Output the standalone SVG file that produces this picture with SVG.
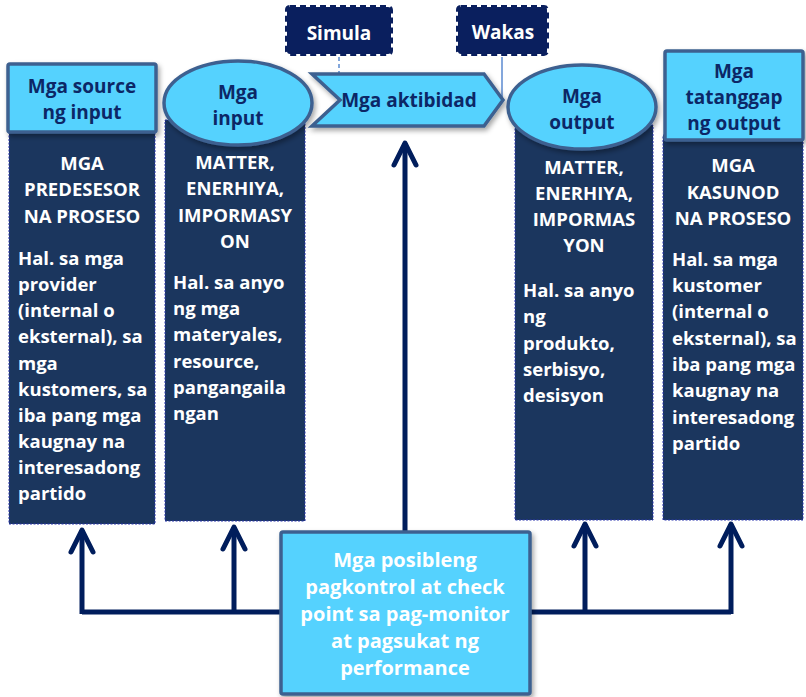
<svg xmlns="http://www.w3.org/2000/svg" width="806" height="697" viewBox="0 0 806 697">
  <defs>
    <filter id="shadow" x="-10%" y="-10%" width="125%" height="130%">
      <feDropShadow dx="2" dy="3" stdDeviation="2.5" flood-color="#000" flood-opacity="0.35"/>
    </filter>
    <marker id="head" viewBox="0 0 30 30" refX="26" refY="15" markerWidth="30" markerHeight="30" markerUnits="userSpaceOnUse" orient="auto">
      <path d="M4 4 L26 15 L4 26" fill="none" stroke="#001d5c" stroke-width="5" stroke-linecap="round" stroke-linejoin="round"/>
    </marker>
    <style>
      text { font-family: "Open Sans", "Liberation Sans", sans-serif; font-weight: bold; }
      .col { fill: #1b365e; stroke: #2b35b0; stroke-width: 1; stroke-dasharray: 2 1.5; }
      .light { fill: #55d2fe; stroke: #3e6190; stroke-width: 3.5; }
      .lbl { fill: #0c2766; font-size: 19px; text-anchor: middle; }
      .head { fill: #ffffff; font-size: 18.5px; text-anchor: middle; }
      .body { fill: #ffffff; font-size: 18.5px; }
      .tag { fill: #0a1f5e; stroke: #0a1f5e; stroke-width: 4; stroke-dasharray: 6 4; }
      .tagtxt { fill: #ffffff; font-size: 19px; text-anchor: middle; }
      .wire { fill: none; stroke: #001d5c; stroke-width: 5; stroke-linejoin: round; }
      .arrow { fill: none; stroke: #001d5c; stroke-width: 5; marker-end: url(#head); }
    </style>
  </defs>

  <!-- dark information columns -->
  <g id="col-source">
    <rect class="col" x="9" y="128" width="146" height="396"/>
    <text class="head" x="82" y="170">MGA</text>
    <text class="head" x="82" y="196">PREDESESOR</text>
    <text class="head" x="82" y="223">NA PROSESO</text>
    <text class="body" x="18" y="265">Hal. sa mga</text>
    <text class="body" x="18" y="291">provider</text>
    <text class="body" x="18" y="317">(internal o</text>
    <text class="body" x="18" y="343">eksternal), sa</text>
    <text class="body" x="18" y="370">mga</text>
    <text class="body" x="18" y="396">kustomers, sa</text>
    <text class="body" x="18" y="422">iba pang mga</text>
    <text class="body" x="18" y="448">kaugnay na</text>
    <text class="body" x="18" y="474">interesadong</text>
    <text class="body" x="18" y="500">partido</text>
  </g>

  <g id="col-input">
    <rect class="col" x="165" y="120" width="140" height="401"/>
    <text class="head" x="235" y="169">MATTER,</text>
    <text class="head" x="235" y="195">ENERHIYA,</text>
    <text class="head" x="235" y="222">IMPORMASY</text>
    <text class="head" x="235" y="248">ON</text>
    <text class="body" x="173" y="289">Hal. sa anyo</text>
    <text class="body" x="173" y="315">ng mga</text>
    <text class="body" x="173" y="341">materyales,</text>
    <text class="body" x="173" y="368">resource,</text>
    <text class="body" x="173" y="394">pangangaila</text>
    <text class="body" x="173" y="420">ngan</text>
  </g>

  <g id="col-output">
    <rect class="col" x="515" y="125" width="138" height="395"/>
    <text class="head" x="584" y="174">MATTER,</text>
    <text class="head" x="584" y="200">ENERHIYA,</text>
    <text class="head" x="584" y="226">IMPORMAS</text>
    <text class="head" x="584" y="252">YON</text>
    <text class="body" x="523" y="297">Hal. sa anyo</text>
    <text class="body" x="523" y="323">ng</text>
    <text class="body" x="523" y="350">produkto,</text>
    <text class="body" x="523" y="376">serbisyo,</text>
    <text class="body" x="523" y="402">desisyon</text>
  </g>

  <g id="col-receiver">
    <rect class="col" x="663" y="135" width="140" height="385"/>
    <text class="head" x="733" y="172">MGA</text>
    <text class="head" x="733" y="199">KASUNOD</text>
    <text class="head" x="733" y="225">NA PROSESO</text>
    <text class="body" x="672" y="266">Hal. sa mga</text>
    <text class="body" x="672" y="292">kustomer</text>
    <text class="body" x="672" y="318">(internal o</text>
    <text class="body" x="672" y="345">eksternal), sa</text>
    <text class="body" x="672" y="371">iba pang mga</text>
    <text class="body" x="672" y="397">kaugnay na</text>
    <text class="body" x="672" y="424">interesadong</text>
    <text class="body" x="672" y="450">partido</text>
  </g>

  <!-- connectors -->
  <g id="connectors">
    <line x1="339" y1="57" x2="339" y2="100" stroke="#5b8ad0" stroke-width="1.5" stroke-dasharray="4 3"/>
    <line x1="502" y1="57" x2="502" y2="100" stroke="#5b8ad0" stroke-width="1.5"/>
    <path class="wire" d="M82 612 H280 M530 612 H731"/>
    <line class="arrow" x1="405" y1="531" x2="405" y2="143"/>
    <line class="arrow" x1="82" y1="614" x2="82" y2="530"/>
    <line class="arrow" x1="234" y1="612" x2="234" y2="527"/>
    <line class="arrow" x1="585" y1="612" x2="585" y2="524"/>
    <line class="arrow" x1="731" y1="614" x2="731" y2="524"/>
  </g>

  <!-- header shapes -->
  <g id="source">
    <rect class="light" x="8" y="64" width="148" height="68" rx="2" filter="url(#shadow)"/>
    <text class="lbl" x="82" y="93">Mga source</text>
    <text class="lbl" x="82" y="119">ng input</text>
  </g>

  <g id="input">
    <ellipse class="light" cx="238" cy="103" rx="74" ry="42" filter="url(#shadow)"/>
    <text class="lbl" x="238" y="99">Mga</text>
    <text class="lbl" x="238" y="125">input</text>
  </g>

  <g id="activity">
    <polygon class="light" points="312,74 484,74 503,100 484,126 312,126 340,100" filter="url(#shadow)"/>
    <text class="lbl" x="409" y="107">Mga aktibidad</text>
  </g>

  <g id="output">
    <ellipse class="light" cx="582" cy="107" rx="74" ry="42" filter="url(#shadow)"/>
    <text class="lbl" x="582" y="103">Mga</text>
    <text class="lbl" x="582" y="129">output</text>
  </g>

  <g id="receiver">
    <rect class="light" x="665" y="51" width="138" height="89" rx="2" filter="url(#shadow)"/>
    <text class="lbl" x="734" y="78">Mga</text>
    <text class="lbl" x="734" y="104">tatanggap</text>
    <text class="lbl" x="734" y="130">ng output</text>
  </g>

  <g id="start">
    <rect class="tag" x="287" y="7" width="104" height="47" rx="3"/>
    <text class="tagtxt" x="339" y="40">Simula</text>
  </g>

  <g id="end">
    <rect class="tag" x="458" y="7" width="89" height="47" rx="3"/>
    <text class="tagtxt" x="503" y="39">Wakas</text>
  </g>

  <g id="control">
    <rect class="light" x="281" y="532" width="249" height="162" rx="2" filter="url(#shadow)"/>
    <text class="tagtxt" x="405" y="567" style="font-size:20px">Mga posibleng</text>
    <text class="tagtxt" x="405" y="594" style="font-size:20px">pagkontrol at check</text>
    <text class="tagtxt" x="405" y="621" style="font-size:20px">point sa pag-monitor</text>
    <text class="tagtxt" x="405" y="648" style="font-size:20px">at pagsukat ng</text>
    <text class="tagtxt" x="405" y="675" style="font-size:20px">performance</text>
  </g>
</svg>
